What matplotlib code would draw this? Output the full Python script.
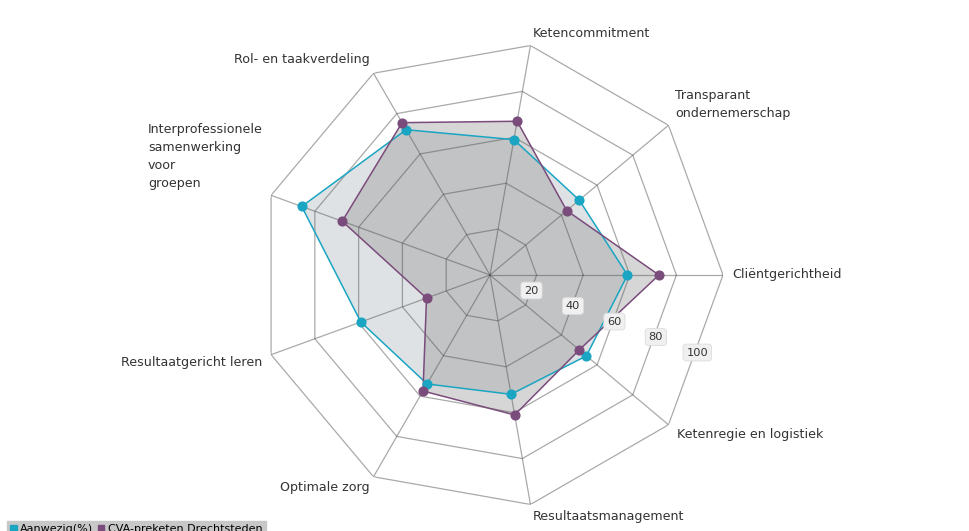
import matplotlib.pyplot as plt
import numpy as np
from matplotlib.patches import Patch

labels = ["Cliëntgerichtheid", "Transparant\nondernemerschap", "Ketencommitment",
          "Rol- en taakverdeling", "Interprofessionele\nsamenwerking\nvoor\ngroepen",
          "Resultaatgericht leren", "Optimale zorg", "Resultaatsmanagement",
          "Ketenregie en logistiek"]
aanwezig = [59, 50, 59, 72, 86, 59, 54, 52, 54]
cva = [72.5, 43, 67, 75.5, 67.5, 29, 57.5, 61, 50]
series_names = ["Aanwezig(%)", "CVA-preketen Drechtsteden"]
ticks = [20, 40, 60, 80, 100]

plt.rcParams['font.family'] = ['DejaVu Sans']
fig = plt.figure(figsize=(9.69, 5.31), dpi=100)
ax = fig.add_axes([257/969, 23/531, 466/969, 466/531], projection='polar')
ax.set_theta_zero_location('E')
ax.set_theta_direction(1)
ax.set_ylim(0, 100)
ax.grid(False)
ax.spines['polar'].set_visible(False)
ax.set_xticks([])
ax.set_yticks([])
ax.patch.set_alpha(0)

n = len(labels)
theta = np.arange(n) * 2 * np.pi / n
tc = np.append(theta, theta[0])

cyan = '#1aa5c2'
purple = '#7a4c7c'

a = np.append(aanwezig, aanwezig[0])
c = np.append(cva, cva[0])
ax.fill(tc, a, color='#b0b8c0', alpha=0.4, zorder=1, lw=0)
ax.fill(tc, c, color='#909090', alpha=0.37, zorder=2, lw=0)
ax.plot(tc, a, color=cyan, lw=1.1, zorder=4)
ax.plot(tc, c, color=purple, lw=1.1, zorder=4)
ax.plot(theta, aanwezig, 'o', color=cyan, ms=6.3, zorder=5)
ax.plot(theta, cva, 'o', color=purple, ms=6.3, zorder=5)

# polygon grid
for t in ticks:
    ax.plot(tc, [t] * (n + 1), color='#555555', alpha=0.5, lw=0.9, zorder=3)
for th in theta:
    ax.plot([th, th], [0, 100], color='#555555', alpha=0.5, lw=0.9, zorder=3)

# radial tick labels
ang = np.deg2rad(-20.5)
for t in ticks:
    ax.text(ang, t * 0.95, str(t), fontsize=8.2, color='#333333', ha='center', va='center',
            zorder=6, bbox=dict(boxstyle='round,pad=0.3', fc='#f0f0f0', ec='#dcdcdc', lw=0.6))

# axis labels
offs = [(7, 0, 'left', 'center'), (5, 4, 'left', 'bottom'), (2, 4, 'left', 'bottom'),
        (-3, 5, 'right', 'bottom'), (-6, 4, 'right', 'bottom'), (-6, -1, 'right', 'top'),
        (-3, -3, 'right', 'top'), (2, -4, 'left', 'top'), (6, -2, 'left', 'top')]
for th, lab, (dx, dy, ha, va) in zip(theta, labels, offs):
    kw = {}
    if '\n' in lab and ha == 'right':
        kw['multialignment'] = 'left'
    ax.annotate(lab, xy=(th, 100), xytext=(dx, dy), textcoords='offset points',
                ha=ha, va=va, fontsize=9.1, color='#333333', linespacing=1.5,
                annotation_clip=False, **kw)

handles = [Patch(color=cyan), Patch(color=purple)]
leg = fig.legend(handles, series_names, loc='upper left', bbox_to_anchor=(0.007, 0.019),
                 ncol=2, fontsize=8.0, frameon=True, fancybox=False, handlelength=0.6,
                 handleheight=0.6, handletextpad=0.3, columnspacing=0.4, borderpad=0.3,
                 borderaxespad=0)
leg.get_frame().set_facecolor('#c8c8c8')
leg.get_frame().set_edgecolor('#c8c8c8')
leg.get_frame().set_alpha(1)

fig.savefig('out.png', dpi=100)
